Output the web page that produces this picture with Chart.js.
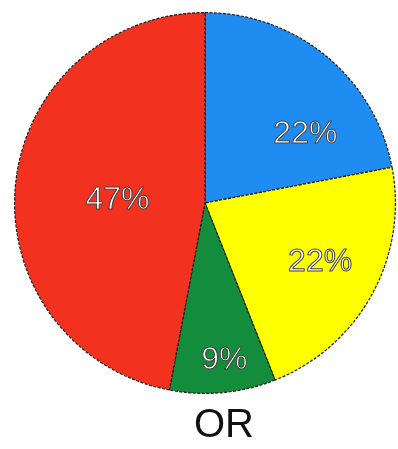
<!DOCTYPE html>
<html>
<head>
<meta charset="utf-8">
<script src="https://cdn.jsdelivr.net/npm/chart.js@4/dist/chart.umd.min.js"></script>
<style>
  html, body { margin: 0; padding: 0; background: #ffffff; }
  #wrap { width: 398px; height: 449px; position: relative; }
</style>
</head>
<body>
<div id="wrap"><canvas id="c"></canvas></div>
<script>
// Slice categories and their shares (percent), clockwise from 12 o'clock
const categories = ['Blue', 'Yellow', 'Green', 'Red'];
const shares = [22, 22, 9, 47];
const sliceColors = ['#1e8cf0', '#ffff00', '#138c3c', '#f2321e'];
const caption = 'OR';

// Where each percentage label sits inside its slice:
// fraction along the slice's sweep, and fraction of the radius
const labelSweep = [0.70, 0.48, 0.45, 0.48];
const labelRadius = [0.64, 0.68, 0.83, 0.46];

const sliceLabels = {
  id: 'sliceLabels',
  afterDatasetsDraw(chart) {
    const ctx = chart.ctx;
    const meta = chart.getDatasetMeta(0);
    ctx.save();
    ctx.font = '32px "Liberation Sans", Arial, sans-serif';
    ctx.textAlign = 'center';
    ctx.textBaseline = 'middle';
    ctx.lineJoin = 'round';
    meta.data.forEach((arc, i) => {
      const p = arc.getProps(['x', 'y', 'startAngle', 'endAngle', 'outerRadius'], true);
      const a = p.startAngle + (p.endAngle - p.startAngle) * labelSweep[i];
      const r = p.outerRadius * labelRadius[i];
      const x = p.x + Math.cos(a) * r;
      const y = p.y + Math.sin(a) * r;
      const txt = shares[i] + '%';
      ctx.fillStyle = '#ffffff';
      ctx.fillText(txt, x, y);
      ctx.lineWidth = 1;
      ctx.strokeStyle = '#404040';
      ctx.strokeText(txt, x, y);
    });
    ctx.restore();
  }
};

const captionText = {
  id: 'captionText',
  afterDraw(chart) {
    const ctx = chart.ctx;
    const area = chart.chartArea;
    ctx.save();
    ctx.font = '40px "Liberation Sans", Arial, sans-serif';
    ctx.fillStyle = '#111111';
    ctx.textAlign = 'center';
    ctx.textBaseline = 'middle';
    ctx.fillText(caption, (area.left + area.right) / 2 + 19, area.bottom + 32);
    ctx.restore();
  }
};

new Chart(document.getElementById('c'), {
  type: 'pie',
  data: {
    labels: categories,
    datasets: [{
      data: shares,
      backgroundColor: sliceColors,
      borderColor: '#1a1a1a',
      borderWidth: 1.2,
      borderDash: [3, 1.5]
    }]
  },
  options: {
    responsive: true,
    maintainAspectRatio: false,
    animation: false,
    layout: { padding: { left: 14, top: 12, right: 2, bottom: 55 } },
    plugins: {
      legend: { display: false },
      tooltip: { enabled: false },
      title: { display: false }
    }
  },
  plugins: [sliceLabels, captionText]
});
</script>
</body>
</html>
